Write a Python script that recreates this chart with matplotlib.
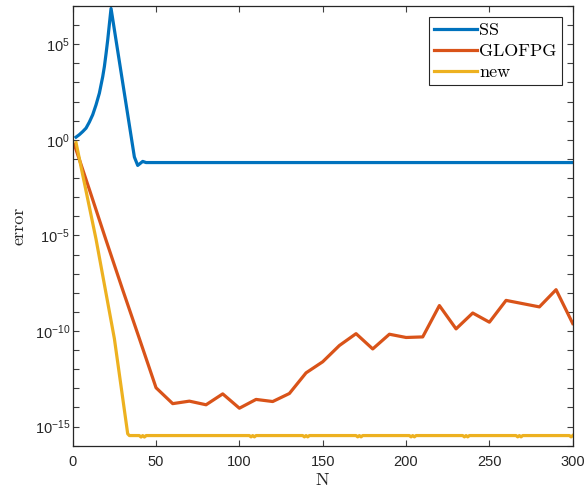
import numpy as np
import matplotlib
matplotlib.use('Agg')
import matplotlib.pyplot as plt
from matplotlib.ticker import FixedLocator, FuncFormatter, NullLocator

# log10 of the error
n_ss = [2, 4, 6, 8, 10, 12, 14, 16, 18, 19, 20, 21, 22, 23, 37, 39, 42, 44, 300]
log_ss = [0.14, 0.27, 0.43, 0.61, 0.93, 1.31, 1.83, 2.44, 3.3, 3.83, 4.5, 5.22, 6.05, 6.87,
          -0.9, -1.34, -1.13, -1.19, -1.19]

n_glofpg = [1, 10, 20, 30, 40, 50, 60, 70, 80, 90, 100, 110, 120, 130, 140, 150,
            160, 170, 180, 190, 200, 210, 220, 230, 240, 250, 260, 270, 280, 290, 300]
log_glofpg = [-0.25, -2.6, -5.25, -7.85, -10.4, -12.97, -13.8, -13.67, -13.86, -13.29,
              -14.04, -13.58, -13.69, -13.27, -12.19, -11.61, -10.76, -10.14, -10.94,
              -10.17, -10.34, -10.31, -8.67, -9.89, -9.06, -9.54, -8.4, -8.57, -8.74,
              -7.84, -9.61]

n_new = [2, 14, 25, 33, 34,
         40, 41, 42, 43, 44, 45,
         106, 107, 108, 109, 110,
         138, 139, 140, 141, 142,
         170, 171, 172, 173, 174,
         202, 203, 204, 205, 206,
         234, 235, 236, 237, 238,
         266, 267, 268, 269, 270,
         298, 299, 300]
log_new = [-0.15, -5.2, -10.4, -15.38, -15.47,
           -15.47, -15.55, -15.47, -15.55, -15.47, -15.47,
           -15.47, -15.54, -15.47, -15.54, -15.47,
           -15.47, -15.54, -15.47, -15.54, -15.47,
           -15.47, -15.54, -15.47, -15.54, -15.47,
           -15.47, -15.54, -15.47, -15.54, -15.47,
           -15.47, -15.54, -15.47, -15.54, -15.47,
           -15.47, -15.54, -15.47, -15.54, -15.47,
           -15.47, -15.54, -15.47]

labels = ['SS', 'GLOFPG', 'new']
colors = ['#0072BD', '#D95319', '#EDB120']

plt.rcParams['mathtext.fontset'] = 'custom'
plt.rcParams['mathtext.rm'] = 'Liberation Sans'
plt.rcParams['mathtext.it'] = 'Liberation Sans:italic'
plt.rcParams['font.family'] = 'Liberation Sans'

fig = plt.figure(figsize=(5.84, 4.94), dpi=100)
ax = fig.add_axes([0.1245, 0.0978, 0.8562, 0.8901])

series = [(n_ss, log_ss), (n_glofpg, log_glofpg), (n_new, log_new)]
for (n, lg), lab, c in zip(series, labels, colors):
    ax.plot(n, 10.0 ** np.array(lg), color=c, lw=2.3, label=lab)

ax.set_yscale('log')
ax.set_xlim(0, 300)
ax.set_ylim(1e-16, 1e7)
ax.set_xticks(range(0, 301, 50))
ax.yaxis.set_major_locator(FixedLocator([10.0 ** k for k in range(-16, 8)]))
ax.yaxis.set_minor_locator(NullLocator())

def ylab(v, pos):
    k = int(round(np.log10(v)))
    if k % 5 != 0:
        return ''
    return r'$10^{%d}$' % k

ax.yaxis.set_major_formatter(FuncFormatter(ylab))
ax.tick_params(direction='in', top=True, right=True, length=4, width=0.8,
               labelsize=10.5, colors='#404040', labelcolor='#262626')
ax.tick_params(axis='y', pad=2)
ax.tick_params(axis='x', pad=7)
for s in ax.spines.values():
    s.set_color('#262626')
    s.set_linewidth(0.9)

ax.set_xlabel('N', fontfamily='cmr10', fontsize=13, color='#262626', labelpad=2)
ax.set_ylabel('error', fontfamily='cmr10', fontsize=13, color='#262626', labelpad=6)

leg = ax.legend(loc='upper right', prop={'family': 'cmr10', 'size': 13},
                fancybox=False, edgecolor='#262626', framealpha=1,
                handlelength=2.4, handletextpad=0.1, borderpad=0.3,
                labelspacing=0.3, borderaxespad=0.6)
leg.get_frame().set_linewidth(0.8)

fig.savefig('out.png', dpi=100)
